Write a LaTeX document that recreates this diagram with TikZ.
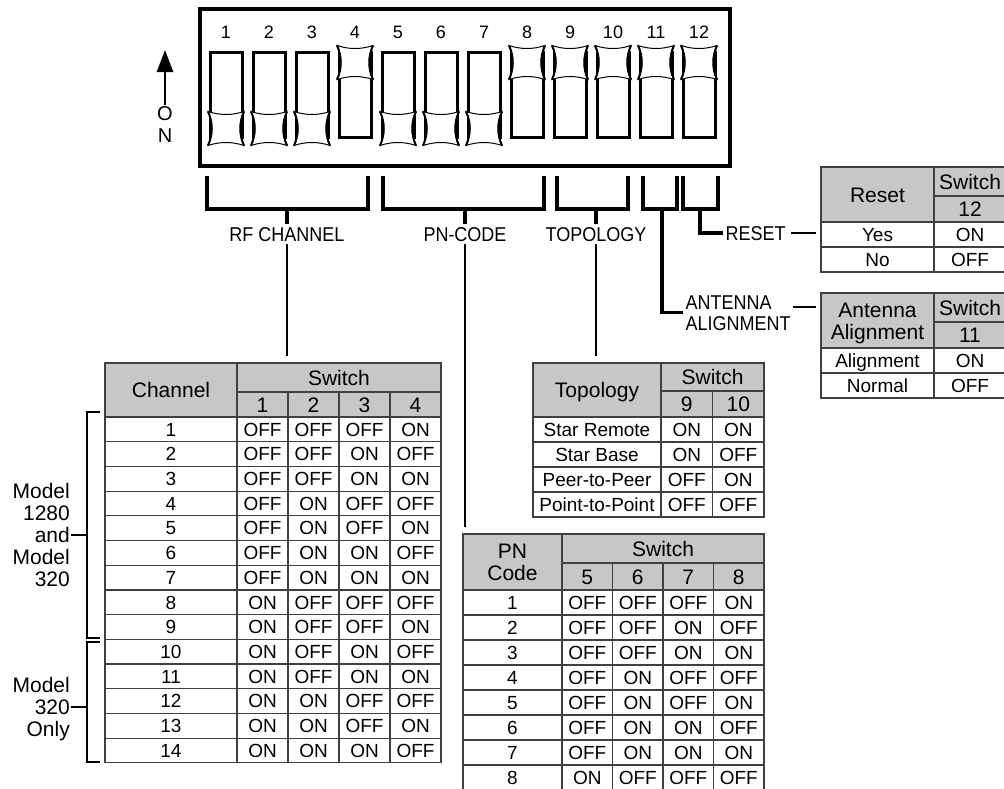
\documentclass[tikz,border=0pt]{standalone}
\usepackage{fontspec}
\setmainfont{Liberation Sans}
\newfontfamily\lblfont[FakeStretch=0.9]{Liberation Sans}
\usetikzlibrary{arrows.meta}

\begin{document}
\begin{tikzpicture}[x=1pt, y=-1pt,
    lbl/.style={font=\lblfont\fontsize{20}{21}\selectfont, inner sep=2.5pt, text height=14.3pt, text depth=0pt},
    swnum/.style={font=\fontsize{18}{21}\selectfont, inner sep=0pt},
    mdl/.style={font=\fontsize{21}{22}\selectfont, inner sep=1pt, text depth=0pt, align=right, anchor=east},
    cell/.style={draw=black!75, line width=1.2pt, inner sep=0pt, minimum width=#1, minimum height=25,
        font=\fontsize{19}{20}\selectfont, text height=13.6pt, text depth=0pt},
    head/.style={cell=#1, fill=black!22, font=\fontsize{21}{22}\selectfont, text height=15pt, align=center},
    brk/.style={line width=3.5pt},
    lead/.style={line width=2pt},
    thinbrk/.style={line width=1.2pt},
    slot/.style={line width=3pt},
    onarrow/.style={line width=2.5pt, -{Triangle[width=16pt, length=22pt]}},
    slider/.pic={
        \draw[fill=white, line width=1pt] (-18,-17) .. controls (-6,-13) and (6,-13) .. (18,-17)
            .. controls (13,-6) and (13,6) .. (18,17)
            .. controls (6,13) and (-6,13) .. (-18,17)
            .. controls (-13,6) and (-13,-6) .. cycle;
        \draw[line width=2pt] (-18,-17) .. controls (-13,-6) and (-13,6) .. (-18,17);
        \draw[line width=2pt] (18,-17) .. controls (13,-6) and (13,6) .. (18,17);
    }
]
    \useasboundingbox (0,0) rectangle (1004,788);

    % DIP switch
    \draw[line width=4pt] (200,8.5) rectangle (730,166);
    \foreach \i/\s in {1/0,2/0,3/0,4/1,5/0,6/0,7/0,8/1,9/1,10/1,11/1,12/1} {
        \pgfmathsetmacro{\sx}{226+43*(\i-1)}
        \pgfmathsetmacro{\sy}{62.5+66*(1-\s)}
        \node[swnum] (num\i) at (\sx,32) {\i};
        \draw[slot] (\sx-16,52) rectangle (\sx+16,137);
        \pic at (\sx,\sy) {slider};
    }

    % ON arrow
    \node[font=\fontsize{20}{22}\selectfont, inner sep=1pt, text height=36.3pt, text depth=0pt, align=center] (onlbl) at (165,124) {O\\N};
    \coordinate (ontip) at (165,50);
    \draw[onarrow] (onlbl.north) -- (ontip);

    % Brackets under the switches
    \draw[brk] (207,176) |- (368,209) -- (368,176);
    \draw[brk] (383,176) |- (544,209) -- (544,176);
    \draw[brk] (557,176) |- (628,209) -- (628,176);
    \draw[brk] (643,176) |- (677,209) -- (677,176);
    \draw[brk] (683,176) |- (718,209) -- (718,176);
    \coordinate (rfstem) at (287,209);
    \coordinate (pnstem) at (465,209);
    \coordinate (tpstem) at (596,209);
    \coordinate (antstem) at (662,209);
    \coordinate (rststem) at (700,209);

    % Labels
    \node[lbl] (rf) at (287,234) {RF CHANNEL};
    \node[lbl] (pn) at (465,234) {PN-CODE};
    \node[lbl] (tp) at (596,234) {TOPOLOGY};
    \node[lbl, anchor=west] (rstlbl) at (723,233) {RESET};
    \node[lbl, anchor=west, align=left, text height=35.3pt] (antlbl) at (683,312.5) {ANTENNA\\ALIGNMENT};

    % Reset table
    \node[head=113, minimum height=55] (rshd) at (877.5,194.5) {Reset};
    \node[head=72, minimum height=29] (rssw) at (970,181.5) {Switch};
    \node[head=72, minimum height=26] (rs12) at (970,209) {12};
    \node[cell=113] (rsyes) at (877.5,234.5) {Yes};
    \node[cell=72] (rsyeson) at (970,234.5) {ON};
    \node[cell=113] (rsno) at (877.5,259.5) {No};
    \node[cell=72] (rsnooff) at (970,259.5) {OFF};

    % Antenna table
    \node[head=113, minimum height=55, text height=37pt] (anthd) at (877.5,320.5) {Antenna\\Alignment};
    \node[head=72, minimum height=29] (antsw) at (970,307.5) {Switch};
    \node[head=72, minimum height=26] (ant11) at (970,335) {11};
    \node[cell=113] (antal) at (877.5,360.5) {Alignment};
    \node[cell=72] (antalon) at (970,360.5) {ON};
    \node[cell=113] (antno) at (877.5,385.5) {Normal};
    \node[cell=72] (antnooff) at (970,385.5) {OFF};

    % Channel table
    \node[head=132, minimum height=54] (chhd) at (171,390) {Channel};
    \node[head=204, minimum height=29] (chsw) at (339,377.5) {Switch};
    \foreach \k in {1,...,4}
        \node[head=51, minimum height=25] (chs\k) at ({211.5+51*\k},404.5) {\k};
    \foreach \n/\sa/\sb/\sc/\sd in {1/OFF/OFF/OFF/ON, 2/OFF/OFF/ON/OFF, 3/OFF/OFF/ON/ON,
        4/OFF/ON/OFF/OFF, 5/OFF/ON/OFF/ON, 6/OFF/ON/ON/OFF, 7/OFF/ON/ON/ON,
        8/ON/OFF/OFF/OFF, 9/ON/OFF/OFF/ON, 10/ON/OFF/ON/OFF, 11/ON/OFF/ON/ON,
        12/ON/ON/OFF/OFF, 13/ON/ON/OFF/ON, 14/ON/ON/ON/OFF} {
        \node[cell=132, minimum height=24.7] (ch\n) at (171,{417+24.7*(\n-0.5)}) {\n};
        \foreach \v [count=\k] in {\sa,\sb,\sc,\sd}
            \node[cell=51, minimum height=24.7] (ch\n-\k) at ({211.5+51*\k},{417+24.7*(\n-0.5)}) {\v};
    }

    % Topology table
    \node[head=128, minimum height=54] (tphd) at (597,390) {Topology};
    \node[head=103, minimum height=28] (tpsw) at (712.5,377) {Switch};
    \node[head=51.5, minimum height=26] (tps9) at (686.75,404) {9};
    \node[head=51.5, minimum height=26] (tps10) at (738.25,404) {10};
    \foreach \tpn/\sa/\sb [count=\r] in {Star Remote/ON/ON, Star Base/ON/OFF,
        Peer-to-Peer/OFF/ON, Point-to-Point/OFF/OFF} {
        \node[cell=128] (tprow\r) at (597,{417+25*(\r-0.5)}) {\tpn};
        \node[cell=51.5] (tpa\r) at (686.75,{417+25*(\r-0.5)}) {\sa};
        \node[cell=51.5] (tpb\r) at (738.25,{417+25*(\r-0.5)}) {\sb};
    }

    % PN code table
    \node[head=99, minimum height=56, text height=37pt] (pnhd) at (512.5,562) {PN\\Code};
    \node[head=202, minimum height=29] (pnsw) at (663,548.5) {Switch};
    \foreach \k in {5,...,8}
        \node[head=50.5, minimum height=27] (pns\k) at ({587.25+50.5*(\k-5)},576.5) {\k};
    \foreach \n/\sa/\sb/\sc/\sd in {1/OFF/OFF/OFF/ON, 2/OFF/OFF/ON/OFF, 3/OFF/OFF/ON/ON,
        4/OFF/ON/OFF/OFF, 5/OFF/ON/OFF/ON, 6/OFF/ON/ON/OFF, 7/OFF/ON/ON/ON, 8/ON/OFF/OFF/OFF} {
        \node[cell=99] (pn\n) at (512.5,{590+25*(\n-0.5)}) {\n};
        \foreach \v [count=\k] in {\sa,\sb,\sc,\sd}
            \node[cell=50.5] (pn\n-\k) at ({536.75+50.5*\k},{590+25*(\n-0.5)}) {\v};
    }

    % Stems and leads
    \draw[brk] (rfstem) -- (rf.north);
    \draw[brk] (pnstem) -- (pn.north);
    \draw[brk] (tpstem) -- (tp.north);
    \draw[brk] (antstem) |- (antlbl.west);
    \draw[brk] (rststem) |- (rstlbl.west);
    \draw[lead, shorten >=6pt] (rf.south) -- (rf.south |- chsw.north);
    \draw[lead, shorten >=6pt] (pn.south) -- (pn.south |- pnhd.north);
    \draw[lead, shorten >=6pt] (tp.south) -- (tp.south |- tphd.north);
    \draw[lead, shorten <=3pt, shorten >=4pt] (rstlbl.east) -- (rstlbl.east -| rsyes.west);
    \draw[lead, shorten >=4pt] ([yshift=6pt]antlbl.east) -- ([yshift=6pt]antlbl.east -| anthd.west);

    % Model brackets
    \draw[thinbrk] (100,412) -| (87,638) -- (100,638);
    \draw[thinbrk] (100,642) -| (87,762) -- (100,762);
    \coordinate (mb1) at (87,535);
    \coordinate (mb2) at (87,707);
    \node[mdl, text height=103pt] (mdl1) at (71,535) {Model\\1280\\and\\Model\\320};
    \node[mdl, text height=59pt] (mdl2) at (71,707) {Model\\320\\Only};
    \draw[thinbrk] (mdl1.east) -- (mb1);
    \draw[thinbrk] (mdl2.east) -- (mb2);
\end{tikzpicture}
\end{document}
